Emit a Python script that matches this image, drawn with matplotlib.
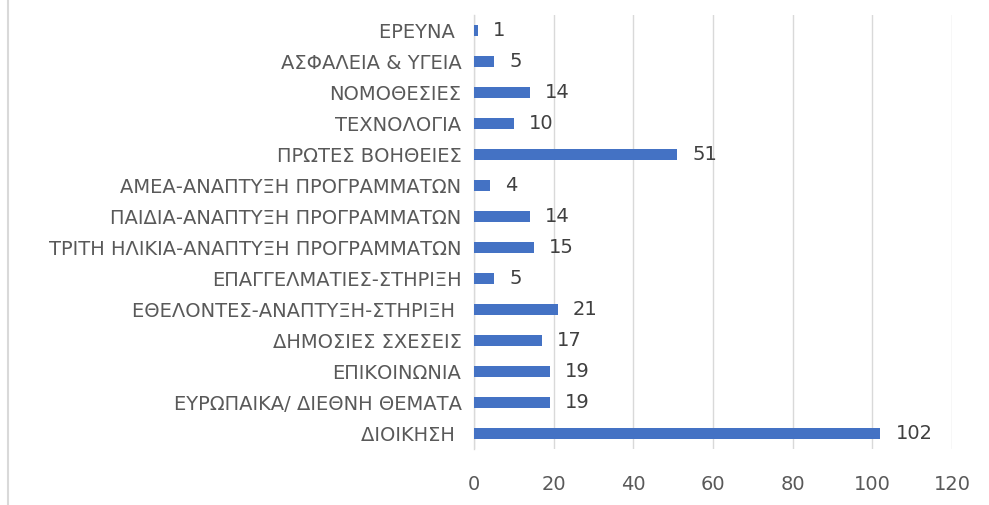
import matplotlib
matplotlib.use("Agg")
import matplotlib.pyplot as plt
from matplotlib.lines import Line2D

categories = [
    "ΔΙΟΙΚΗΣΗ ",
    "ΕΥΡΩΠΑΙΚΑ/ ΔΙΕΘΝΗ ΘΕΜΑΤΑ",
    "ΕΠΙΚΟΙΝΩΝΙΑ",
    "ΔΗΜΟΣΙΕΣ ΣΧΕΣΕΙΣ",
    "ΕΘΕΛΟΝΤΕΣ-ΑΝΑΠΤΥΞΗ-ΣΤΗΡΙΞΗ ",
    "ΕΠΑΓΓΕΛΜΑΤΙΕΣ-ΣΤΗΡΙΞΗ",
    "ΤΡΙΤΗ ΗΛΙΚΙΑ-ΑΝΑΠΤΥΞΗ ΠΡΟΓΡΑΜΜΑΤΩΝ",
    "ΠΑΙΔΙΑ-ΑΝΑΠΤΥΞΗ ΠΡΟΓΡΑΜΜΑΤΩΝ",
    "ΑΜΕΑ-ΑΝΑΠΤΥΞΗ ΠΡΟΓΡΑΜΜΑΤΩΝ",
    "ΠΡΩΤΕΣ ΒΟΗΘΕΙΕΣ",
    "ΤΕΧΝΟΛΟΓΙΑ",
    "ΝΟΜΟΘΕΣΙΕΣ",
    "ΑΣΦΑΛΕΙΑ & ΥΓΕΙΑ",
    "ΕΡΕΥΝΑ ",
]
values = [102, 19, 19, 17, 21, 5, 15, 14, 4, 51, 10, 14, 5, 1]
x_ticks = [0, 20, 40, 60, 80, 100, 120]

plt.rcParams['font.family'] = ['DejaVu Sans']

fig = plt.figure(figsize=(9.89, 5.05), dpi=100)
ax = fig.add_axes([474/989, 1 - 449/505, (952 - 474)/989, (449 - 15)/505])

ypos = list(range(len(categories)))
ax.barh(ypos, values, height=0.33, color="#4472C4", zorder=3)
for y, v in zip(ypos, values):
    ax.annotate(str(v), (v, y), xytext=(11, 0), textcoords="offset points",
                va="center", ha="left", fontsize=14, color="#404040")

ax.set_xlim(0, 120)
ax.set_ylim(-0.5, len(categories) - 0.5)
ax.set_xticks(x_ticks)
ax.set_xticklabels([str(t) for t in x_ticks])
ax.set_yticks(ypos)
ax.set_yticklabels(categories)
ax.tick_params(axis="x", length=0, pad=19, labelsize=14, labelcolor="#595959")
ax.tick_params(axis="y", length=0, pad=9, labelsize=14, labelcolor="#595959")
ax.grid(axis="x", color="#D9D9D9", linewidth=1.0, zorder=0)
for s in ["top", "right", "bottom"]:
    ax.spines[s].set_visible(False)
ax.spines["left"].set_color("#D9D9D9")
ax.spines["left"].set_linewidth(1.0)

fig.add_artist(Line2D([8/989, 8/989], [0, 1], transform=fig.transFigure,
                      color="#D9D9D9", linewidth=1.5))

fig.savefig("out.png", dpi=100)
